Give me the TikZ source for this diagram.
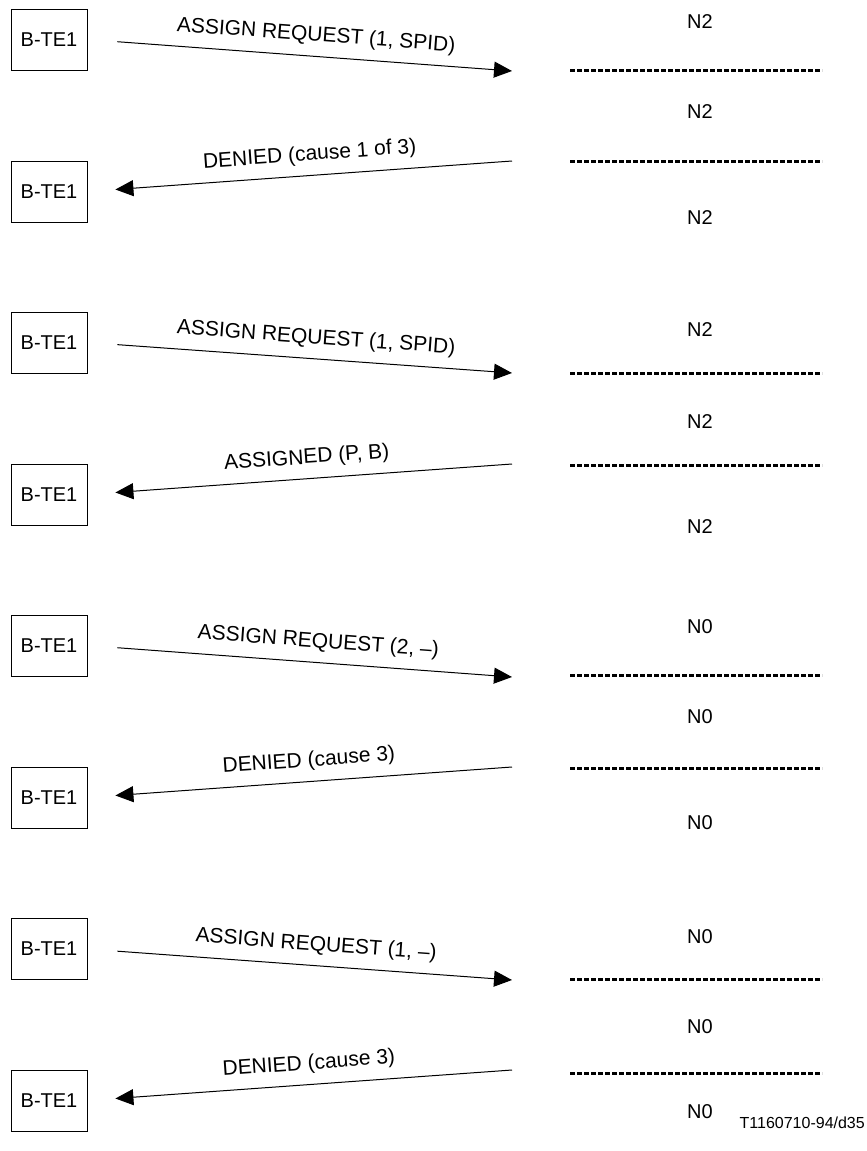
\documentclass[tikz,border=0pt]{standalone}
\usepackage{fontspec}
\setmainfont{Liberation Sans}
\usetikzlibrary{arrows.meta}
\begin{document}
\begin{tikzpicture}[x=1pt,y=-1pt,
  every node/.style={font=\fontsize{20}{24}\selectfont},
  tebox/.style={draw, line width=1pt, minimum width=76pt, minimum height=61pt, inner sep=0pt},
  msg/.style={line width=1pt, -{Triangle[length=18pt,width=16pt]}},
  lab/.style={sloped, above=14.5pt, inner sep=0pt, text depth=0pt, font=\fontsize{21}{25}\selectfont},
  stlab/.style={inner sep=0pt},
  sepline/.style={line width=3pt, dash pattern=on 5pt off 2pt}]
\useasboundingbox (0,0) rectangle (867,1151);

% ---------- group 1 ----------
\node[tebox] (a1) at (49,39.5) {B-TE1};
\node[tebox] (a2) at (49,191.5) {B-TE1};
\coordinate (t1) at (512,71);
\coordinate (r1) at (512,161);
\draw[msg, shorten <=30pt] (a1.east) -- node[lab, pos=.535] {ASSIGN REQUEST (1, SPID)} (t1);
\draw[msg, shorten >=28pt] (r1) -- node[lab, pos=.473] {DENIED (cause 1 of 3)} (a2.east);
\node[stlab] (n11) at (700,22) {N2};
\node[stlab] (n12) at (700,112) {N2};
\node[stlab] (n13) at (700,218) {N2};
\draw[sepline] (570,70) -- (822,70);
\draw[sepline] (570,161) -- (822,161);

% ---------- group 2 ----------
\node[tebox] (b1) at (49,342.5) {B-TE1};
\node[tebox] (b2) at (49,494.5) {B-TE1};
\coordinate (t2) at (512,373);
\coordinate (r2) at (512,464);
\draw[msg, shorten <=30pt] (b1.east) -- node[lab, pos=.535] {ASSIGN REQUEST (1, SPID)} (t2);
\draw[msg, shorten >=28pt] (r2) -- node[lab, pos=.48] {ASSIGNED (P, B)} (b2.east);
\node[stlab] (n21) at (700,330) {N2};
\node[stlab] (n22) at (700,422) {N2};
\node[stlab] (n23) at (700,527) {N2};
\draw[sepline] (570,373) -- (822,373);
\draw[sepline] (570,465) -- (822,465);

% ---------- group 3 ----------
\node[tebox] (c1) at (49,645.5) {B-TE1};
\node[tebox] (c2) at (49,797.5) {B-TE1};
\coordinate (t3) at (512,677);
\coordinate (r3) at (512,767);
\draw[msg, shorten <=30pt] (c1.east) -- node[lab, pos=.54] {ASSIGN REQUEST (2, –)} (t3);
\draw[msg, shorten >=28pt] (r3) -- node[lab, pos=.475] {DENIED (cause 3)} (c2.east);
\node[stlab] (n31) at (700,627) {N0};
\node[stlab] (n32) at (700,717) {N0};
\node[stlab] (n33) at (700,823) {N0};
\draw[sepline] (570,675) -- (822,675);
\draw[sepline] (570,768) -- (822,768);

% ---------- group 4 ----------
\node[tebox] (d1) at (49,949) {B-TE1};
\node[tebox] (d2) at (49,1100.5) {B-TE1};
\coordinate (t4) at (512,980);
\coordinate (r4) at (512,1070);
\draw[msg, shorten <=30pt] (d1.east) -- node[lab, pos=.535] {ASSIGN REQUEST (1, –)} (t4);
\draw[msg, shorten >=28pt] (r4) -- node[lab, pos=.475] {DENIED (cause 3)} (d2.east);
\node[stlab] (n41) at (700,937) {N0};
\node[stlab] (n42) at (700,1027) {N0};
\node[stlab] (n43) at (700,1112) {N0};
\draw[sepline] (570,979) -- (822,979);
\draw[sepline] (570,1073) -- (822,1073);

\node[inner sep=0pt, anchor=east, font=\fontsize{16}{19}\selectfont] (ref) at (865,1123) {T1160710-94/d35};
\end{tikzpicture}
\end{document}
